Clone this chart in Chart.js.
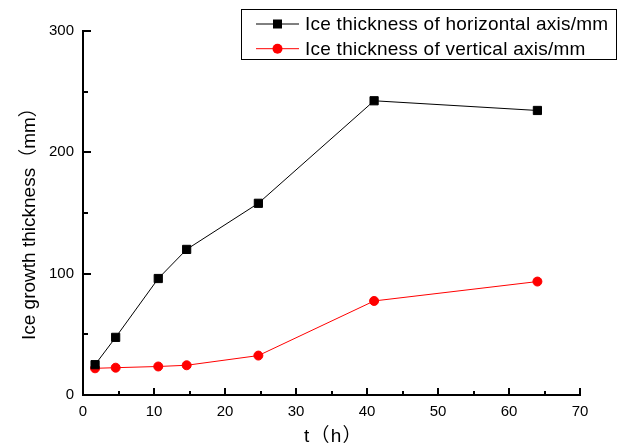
<!DOCTYPE html>
<html>
<head>
<meta charset="utf-8">
<script src="https://cdn.jsdelivr.net/npm/chart.js@4.4.1/dist/chart.umd.min.js"></script>
<style>
  html, body { margin: 0; padding: 0; background: #fff; }
  #wrap { width: 619px; height: 446px; }
</style>
</head>
<body>
<div id="wrap"><canvas id="myChart" width="619" height="446"></canvas></div>
<script>
// data
var timeH = [1.7, 4.6, 10.6, 14.6, 24.7, 41.0, 64.0];
var horizontalIce = [25, 47.5, 96, 120, 158, 242.5, 234.5];
var verticalIce = [22, 22.5, 23.5, 24.5, 32.5, 77.5, 93.5];
var seriesNames = ['Ice thickness of horizontal axis/mm', 'Ice thickness of vertical axis/mm'];
var xTitle = 't（h）';
var yTitle = 'Ice growth thickness（mm）';

var FONT = '"Liberation Sans", Arial, "Noto Sans CJK SC", sans-serif';

function pts(xs, ys) {
    var out = [];
    for (var i = 0; i < xs.length; i++) out.push({x: xs[i], y: ys[i]});
    return out;
}

// inward ticks, axis titles, boxed legend
var decor = {
    id: 'decor',
    afterDraw: function(chart) {
        var c = chart.ctx;
        var xs = chart.scales.x, ys = chart.scales.y;
        var area = chart.chartArea;
        c.save();
        c.strokeStyle = '#000';
        c.lineWidth = 2;
        xs.ticks.forEach(function(t) {
            var px = Math.round(xs.getPixelForValue(t.value));
            var len = t.value % 10 === 0 ? 7 : 4;
            c.beginPath();
            c.moveTo(px, area.bottom);
            c.lineTo(px, area.bottom - len);
            c.stroke();
        });
        ys.ticks.forEach(function(t) {
            var py = Math.round(ys.getPixelForValue(t.value));
            var len = t.value % 100 === 0 ? 8 : 5;
            c.beginPath();
            c.moveTo(area.left, py);
            c.lineTo(area.left + len, py);
            c.stroke();
        });

        // axis titles
        c.fillStyle = '#000';
        c.textBaseline = 'middle';
        c.textAlign = 'left';
        c.font = '19px ' + FONT;
        c.letterSpacing = '1.2px';
        c.fillText(xTitle, 304, 437);
        c.save();
        c.translate(30, 340);
        c.rotate(-Math.PI / 2);
        c.letterSpacing = '0px';
        c.fillText(yTitle, 0, 0);
        c.restore();

        // legend
        var bx = 241, by = 9, bw = 375, bh = 50;
        c.lineWidth = 1;
        c.strokeStyle = '#000';
        c.strokeRect(bx + 0.5, by + 0.5, bw, bh);
        c.letterSpacing = '0.25px';
        chart.data.datasets.forEach(function(ds, i) {
            var ly = 24 + i * 24.7;
            c.strokeStyle = ds.borderColor;
            c.lineWidth = 1;
            c.beginPath();
            c.moveTo(256, ly);
            c.lineTo(299, ly);
            c.stroke();
            c.fillStyle = ds.pointBackgroundColor;
            if (ds.pointStyle === 'rect') {
                c.fillRect(273, ly - 4.5, 9, 9);
            } else {
                c.beginPath();
                c.arc(277.5, ly, 5, 0, Math.PI * 2);
                c.fill();
            }
            c.fillStyle = '#000';
            c.fillText(ds.label, 305, ly + 1);
        });
        c.restore();
    }
};

var ctx = document.getElementById('myChart').getContext('2d');
var chart = new Chart(ctx, {
    type: 'line',
    data: {
        datasets: [
            {
                label: seriesNames[0],
                data: pts(timeH, horizontalIce),
                borderColor: '#000000',
                backgroundColor: '#000000',
                pointBackgroundColor: '#000000',
                pointBorderColor: '#000000',
                pointStyle: 'rect',
                pointRadius: 5.8,
                pointBorderWidth: 1,
                borderWidth: 1,
                tension: 0
            },
            {
                label: seriesNames[1],
                data: pts(timeH, verticalIce),
                borderColor: '#ff0000',
                backgroundColor: '#ff0000',
                pointBackgroundColor: '#ff0000',
                pointBorderColor: '#ff0000',
                pointStyle: 'circle',
                pointRadius: 4.5,
                pointBorderWidth: 1,
                borderWidth: 1,
                tension: 0
            }
        ]
    },
    options: {
        responsive: false,
        animation: false,
        layout: { padding: { left: 0, top: 31, right: 39, bottom: 0 } },
        plugins: { legend: { display: false }, tooltip: { enabled: false } },
        scales: {
            x: {
                type: 'linear',
                min: 0, max: 70,
                grid: { display: false, drawTicks: false },
                border: { display: true, color: '#000', width: 2 },
                ticks: {
                    stepSize: 5,
                    padding: 8,
                    color: '#000',
                    font: { family: FONT, size: 15 },
                    maxRotation: 0,
                    autoSkip: false,
                    callback: function(v) { return v % 10 === 0 ? v : ''; }
                },
                afterFit: function(s) { s.height = 51; }
            },
            y: {
                min: 0, max: 300,
                grid: { display: false, drawTicks: false },
                border: { display: true, color: '#000', width: 2 },
                ticks: {
                    stepSize: 50,
                    padding: 9,
                    color: '#000',
                    font: { family: FONT, size: 15 },
                    autoSkip: false,
                    callback: function(v) { return v % 100 === 0 ? v : ''; }
                },
                afterFit: function(s) { s.width = 83; }
            }
        }
    },
    plugins: [decor]
});
</script>
</body>
</html>
